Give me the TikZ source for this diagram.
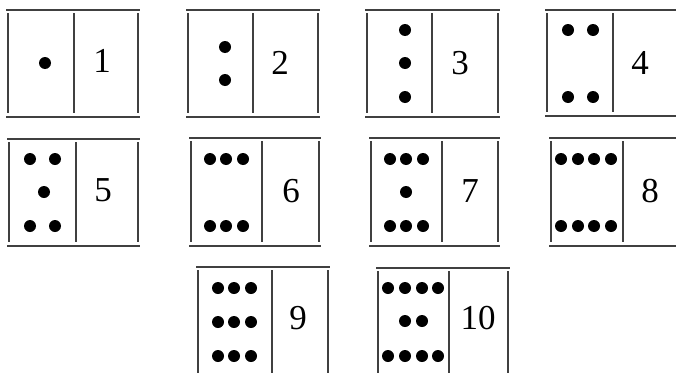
\documentclass[tikz,border=0pt]{standalone}
\usepackage{fontspec}
\setmainfont{Liberation Serif}
\begin{document}
\begin{tikzpicture}[x=1pt,y=-1pt,
  edge/.style={line width=1.2pt, draw=black!75},
  num/.style={font=\fontsize{35}{35}\selectfont, inner sep=0pt}]
\useasboundingbox (0,0) rectangle (676,372);
\clip (0,0) rectangle (676,372);
% card frames: left, divider, right, top, bottom
\foreach \L/\M/\R/\T/\B in {
  8/74/138/10/117, 188/253/318/10/117, 367/432/498/10/117, 547/613/690/10/116,
  9/76/138/139/246, 191/262/319/138/246, 371/442/498/138/246, 551/623/690/138/246,
  198/272/328/267/392, 378/449/508/268/392}{
  \draw[edge] (\L-2,\T) -- (\R+2,\T);
  \draw[edge] (\L-2,\B) -- (\R+2,\B);
  \draw[edge] (\L,\T+3) -- (\L,\B-4);
  \draw[edge] (\M,\T+3) -- (\M,\B-4);
  \draw[edge] (\R,\T+3) -- (\R,\B-4);
}
% pips
\foreach \p in {(45,63),
  (225,47),(225,80),
  (405,30),(405,63),(405,97),
  (568,30),(593,30),(568,97),(593,97),
  (30,159),(55,159),(44,192),(30,226),(55,226),
  (210,159),(226,159),(243,159),(210,226),(226,226),(243,226),
  (390,159),(406,159),(423,159),(406,192),(390,226),(406,226),(423,226),
  (561,159),(578,159),(594,159),(611,159),(561,226),(578,226),(594,226),(611,226),
  (218,288),(234,288),(251,288),(218,322),(234,322),(251,322),(218,356),(234,356),(251,356),
  (388,288),(405,288),(422,288),(438,288),(405,321),(422,321),
  (388,356),(405,356),(422,356),(438,356)}
  \fill[black] \p circle (6pt);
% numbers
\node[num] (n1) at (102,61) {1};
\node[num] (n2) at (280,63) {2};
\node[num] (n3) at (460,63) {3};
\node[num] (n4) at (640,63) {4};
\node[num] (n5) at (103,190) {5};
\node[num] (n6) at (291,191) {6};
\node[num] (n7) at (470,191) {7};
\node[num] (n8) at (650,191) {8};
\node[num] (n9) at (298,318) {9};
\node[num] (n10) at (478,318) {10};
\end{tikzpicture}
\end{document}
